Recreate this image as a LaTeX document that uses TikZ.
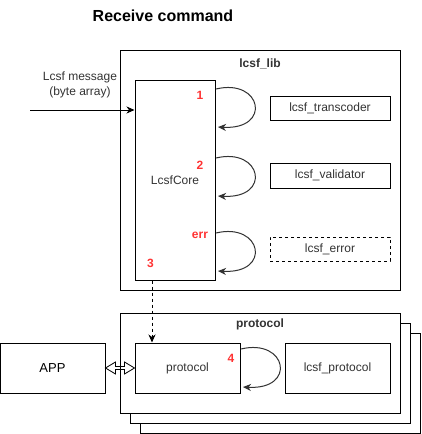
\documentclass[tikz,border=0pt]{standalone}
\usepackage{fontspec}
\setmainfont{Liberation Sans}
\usetikzlibrary{arrows.meta,calc}
\definecolor{txtgray}{HTML}{333333}
\definecolor{numred}{HTML}{FF3333}
\begin{document}
\begin{tikzpicture}[x=1pt,y=-1pt,line width=1pt,
  box/.style={draw=black,fill=white,inner sep=0pt,text=txtgray,font=\fontsize{12}{14}\selectfont},
  frame/.style={draw=black,fill=white,inner sep=0pt},
  boldlbl/.style={text=txtgray,font=\bfseries\fontsize{12}{14}\selectfont,inner sep=0pt},
  num/.style={text=numred,font=\bfseries\fontsize{12}{14}\selectfont,inner sep=0pt},
  loopline/.style={draw=black!80,-{Stealth[length=8pt,width=7pt,inset=2.5pt]}},
  tip/.style={-{Stealth[length=8pt,width=7pt,inset=2.5pt]}}]
\useasboundingbox (0,0) rectangle (421,434);
% title
\node[font=\bfseries\fontsize{16}{18}\selectfont,inner sep=0pt] (title) at (163,16) {Receive command};
% lcsf_lib frame
\node[frame,minimum width=280pt,minimum height=240pt] (lib) at (260,170) {};
\node[boldlbl] (liblbl) at (260,64) {lcsf\_lib};
\node[box,minimum width=80pt,minimum height=200pt] (core) at (175,180) {LcsfCore};
\node[box,minimum width=120pt,minimum height=24pt] (trans) at (330,108) {lcsf\_transcoder};
\node[box,minimum width=120pt,minimum height=25pt] (valid) at (330,175.5) {lcsf\_validator};
\node[box,dashed,minimum width=120pt,minimum height=24pt] (errb) at (330,249) {lcsf\_error};
\node[num] (n1) at (200,95) {1};
\node[num] (n2) at (200,165) {2};
\node[num] (nerr) at (200,235) {err};
\node[num] (n3) at (150.5,263) {3};
% loops
\coordinate (l1a) at (216,89);  \coordinate (l1b) at (218,127);
\coordinate (l2a) at (216,158); \coordinate (l2b) at (218,196);
\coordinate (l3a) at (216,233); \coordinate (l3b) at (218,271);
\draw[loopline] (l1a) .. controls ($(l1a)+(46,-11)$) and ($(l1b)+(54,3)$) .. (l1b);
\draw[loopline] (l2a) .. controls ($(l2a)+(46,-11)$) and ($(l2b)+(54,3)$) .. (l2b);
\draw[loopline] (l3a) .. controls ($(l3a)+(46,-11)$) and ($(l3b)+(54,3)$) .. (l3b);
% input message
\coordinate (msgin) at (30,110);
\draw[tip] (msgin) -- (msgin -| core.west);
\node[text=txtgray,font=\fontsize{12}{15}\selectfont,align=center,inner sep=0pt] (msg) at (80,84.5) {Lcsf message\\(byte array)};
% protocol stack
\node[frame,minimum width=280pt,minimum height=100pt] (st3) at (280,383) {};
\node[frame,minimum width=280pt,minimum height=100pt] (st2) at (270,373) {};
\node[frame,minimum width=280pt,minimum height=100pt] (st1) at (260,363) {};
\node[boldlbl] (protlbl) at (260,324) {protocol};
\node[box,minimum width=105pt,minimum height=50pt] (prot) at (187.5,368) {protocol};
\node[box,minimum width=105pt,minimum height=50pt] (lprot) at (337.5,368) {lcsf\_protocol};
\node[draw=black,fill=white,inner sep=0pt,minimum width=105pt,minimum height=50pt,font=\fontsize{13}{15}\selectfont] (app) at (52.5,368) {APP};
\node[num] (n4) at (231,358) {4};
\coordinate (l4a) at (241,349); \coordinate (l4b) at (243,387);
\draw[loopline] (l4a) .. controls ($(l4a)+(46,-11)$) and ($(l4b)+(54,3)$) .. (l4b);
% dashed arrow core -> protocol
\draw[tip,dashed] (core.south -| 152,0) -- (prot.north -| 152,0);
% double hollow arrow APP <-> protocol
\draw[line width=0.8pt,line join=miter] (app.east) -- ++(10,-6) -- ++(0,4.5) -- ($(prot.west)+(-10,-1.5)$) -- ++(0,-4.5) -- (prot.west) -- ++(-10,6) -- ++(0,-4.5) -- ($(app.east)+(10,1.5)$) -- ++(0,4.5) -- cycle;
\end{tikzpicture}
\end{document}
